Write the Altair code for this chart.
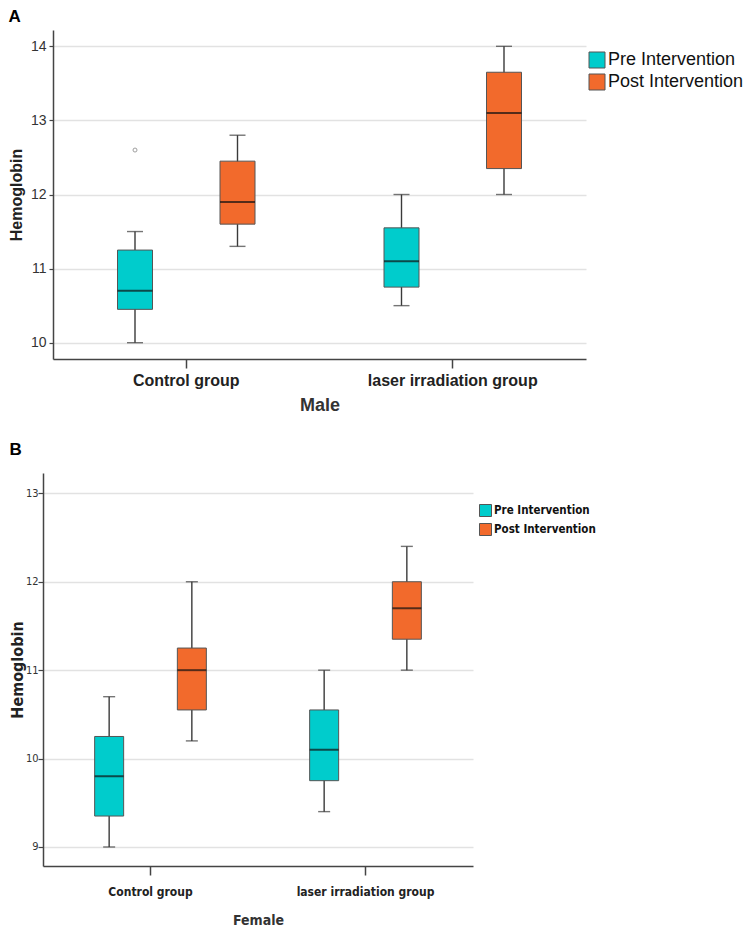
import altair as alt
import pandas as pd

groups = ["Control group", "laser irradiation group"]
phases = ["Pre Intervention", "Post Intervention"]
colors = ["#00CCCC", "#F26A2C"]

# Panel A (Male): order = Control Pre, Control Post, Laser Pre, Laser Post
male_low = [10.0, 11.3, 10.5, 12.0]
male_q1 = [10.45, 11.6, 10.75, 12.35]
male_med = [10.7, 11.9, 11.1, 13.1]
male_q3 = [11.25, 12.45, 11.55, 13.65]
male_high = [11.5, 12.8, 12.0, 14.0]
male_out_group = ["Control group"]
male_out_phase = ["Pre Intervention"]
male_out_value = [12.6]

# Panel B (Female)
fem_low = [9.0, 10.2, 9.4, 11.0]
fem_q1 = [9.35, 10.55, 9.75, 11.35]
fem_med = [9.8, 11.0, 10.1, 11.7]
fem_q3 = [10.25, 11.25, 10.55, 12.0]
fem_high = [10.7, 12.0, 11.0, 12.4]

cells_group = [groups[0], groups[0], groups[1], groups[1]]
cells_phase = [phases[0], phases[1], phases[0], phases[1]]


def stats_df(low, q1, med, q3, high):
    return pd.DataFrame({
        "group": cells_group, "phase": cells_phase,
        "low": low, "q1": q1, "med": med, "q3": q3, "high": high,
    })


def panel(df, out_df, letter, xtitle, width, height, shift, domain, ticks,
          box_w, cap_w, font, xlab_size, ylab_size, tick_lab_size, xtitle_size,
          legend_x, legend_y, legend_size, legend_weight, sym_w,
          x_lab_pad, x_title_pad, y_title_pad, y_tick, y_lab_pad, title_offset):
    x = alt.X("group:N", sort=groups,
              scale=alt.Scale(paddingInner=0, paddingOuter=0,
                              range=[shift, shift + width]),
              axis=alt.Axis(title=xtitle, labelAngle=0, labelFont=font,
                            labelFontSize=xlab_size, labelFontWeight="bold",
                            labelColor="#222", titleFont=font,
                            titleFontSize=xtitle_size, titleFontWeight="bold",
                            titleColor="#333", tickSize=9, tickColor="#444",
                            domainColor="#444", domainWidth=1.5, tickWidth=1.5,
                            labelPadding=x_lab_pad, titlePadding=x_title_pad,
                            grid=False))
    xo = alt.XOffset("phase:N", sort=phases,
                     scale=alt.Scale(paddingInner=0, paddingOuter=0.3))
    y_scale = alt.Scale(domain=domain, nice=False, zero=False)
    y_axis = alt.Axis(title="Hemoglobin", values=ticks, format="d", grid=True,
                      gridColor="#e2e2e2", gridWidth=1.5, domainColor="#444",
                      domainWidth=1.5, tickColor="#444", tickSize=y_tick,
                      tickWidth=1.2, labelPadding=y_lab_pad, offset=-shift,
                      labelFont=font, labelFontSize=tick_lab_size,
                      labelColor="#333", titleFont=font, titleFontSize=ylab_size,
                      titleFontWeight="bold", titleColor="#222",
                      titlePadding=y_title_pad)
    base = alt.Chart(df)
    whisk = base.mark_rule(color="#3a3a3a", strokeWidth=1.4).encode(
        x=x, xOffset=xo,
        y=alt.Y("low:Q", scale=y_scale, axis=y_axis), y2="high:Q")
    caps_lo = base.mark_tick(color="#3a3a3a", size=cap_w, thickness=1.4).encode(
        x=x, xOffset=xo, y=alt.Y("low:Q", scale=y_scale))
    caps_hi = base.mark_tick(color="#3a3a3a", size=cap_w, thickness=1.4).encode(
        x=x, xOffset=xo, y=alt.Y("high:Q", scale=y_scale))
    box = base.mark_bar(size=box_w, stroke="#555", strokeWidth=1).encode(
        x=x, xOffset=xo, y=alt.Y("q1:Q", scale=y_scale), y2="q3:Q",
        color=alt.Color("phase:N", sort=phases,
                        scale=alt.Scale(domain=phases, range=colors),
                        legend=alt.Legend(title=None, orient="none",
                                          legendX=legend_x + shift,
                                          legendY=legend_y,
                                          symbolType="square",
                                          symbolSize=sym_w * sym_w,
                                          symbolStrokeColor="#555",
                                          symbolStrokeWidth=1,
                                          symbolOpacity=1,
                                          labelFont=font,
                                          labelFontSize=legend_size,
                                          labelFontWeight=legend_weight,
                                          labelColor="#111",
                                          labelOffset=2, rowPadding=2)))
    med = base.mark_tick(color="#111", size=box_w, thickness=2).encode(
        x=x, xOffset=xo, y=alt.Y("med:Q", scale=y_scale))
    layers = [whisk, caps_lo, caps_hi, box, med]
    if out_df is not None:
        outl = alt.Chart(out_df).mark_point(shape="circle", size=16,
                                            color="#777", strokeWidth=1,
                                            filled=False).encode(
            x=x, xOffset=xo, y=alt.Y("value:Q", scale=y_scale))
        layers.append(outl)
    return alt.layer(*layers).properties(
        width=width + shift, height=height,
        title=alt.TitleParams(letter, anchor="start", frame="bounds",
                              font="Liberation Sans", fontSize=17,
                              fontWeight="bold", color="#000",
                              offset=title_offset))


male_df = stats_df(male_low, male_q1, male_med, male_q3, male_high)
male_out = pd.DataFrame({"group": male_out_group, "phase": male_out_phase,
                         "value": male_out_value})
fem_df = stats_df(fem_low, fem_q1, fem_med, fem_q3, fem_high)

pa = panel(male_df, male_out, "A", "Male", 533, 329, 10, [9.78, 14.22],
           [10, 11, 12, 13, 14], 35, 16, "Liberation Sans",
           16, 16, 14, 18, 535, 21, 18, "normal", 16, 4, 8, 6, 4, 3, 4)
pb = panel(fem_df, None, "B", "Female", 430, 393, 0, [8.785, 13.23],
           [9, 10, 11, 12, 13], 29, 12, "DejaVu Sans Condensed",
           12, 16, 11, 14, 436, 31, 11.5, "bold", 12, 11, 16, 0, 5, 0, 14)

chart = alt.vconcat(pa, pb, spacing=27).resolve_scale(
    x="independent", xOffset="independent", y="independent",
    color="independent").resolve_legend(color="independent").properties(
    padding=0).configure_view(strokeWidth=0)

chart.save("out.html", embed_options={"renderer": "svg", "actions": False})
